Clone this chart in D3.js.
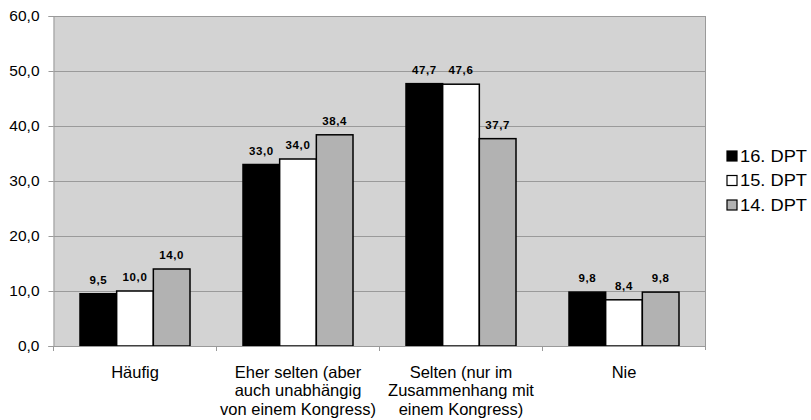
<!DOCTYPE html>
<html><head><meta charset="utf-8">
<script src="https://cdn.jsdelivr.net/npm/d3@7"></script>
<style>body{margin:0;background:#fff}svg{display:block}</style>
</head><body>
<svg id="c" width="811" height="420"></svg>
<script>
const categories = [
  ["Häufig"],
  ["Eher selten (aber", "auch unabhängig", "von einem Kongress)"],
  ["Selten (nur im", "Zusammenhang mit", "einem Kongress)"],
  ["Nie"]
];
const seriesNames = ["16. DPT", "15. DPT", "14. DPT"];
const s16 = [9.5, 33.0, 47.7, 9.8];
const s15 = [10.0, 34.0, 47.6, 8.4];
const s14 = [14.0, 38.4, 37.7, 9.8];
const yTicks = [0, 10, 20, 30, 40, 50, 60];
const colors = ["#000000", "#ffffff", "#b2b2b2"];

const series = [s16, s15, s14];
const svg = d3.select("#c");
const L = 53.5, R = 705.5, T = 16, B = 346;
const FONT = "Liberation Sans, Arial, sans-serif";
const fmt = v => v.toFixed(1).replace(".", ",");

const x = d3.scaleBand().domain(d3.range(categories.length)).range([L, R]).paddingInner(0).paddingOuter(0);
const x1 = d3.scaleBand().domain(d3.range(series.length)).range([0, 110]);
const y = d3.scaleLinear().domain([0, 60]).range([B, T]);

svg.append("rect").attr("x", L).attr("y", T).attr("width", R - L).attr("height", B - T).attr("fill", "#d3d3d3");

// gridlines
svg.append("g").selectAll("line").data(yTicks.filter(d => d > 0)).join("line")
  .attr("x1", L).attr("x2", R).attr("y1", d => Math.round(y(d)) + 0.5).attr("y2", d => Math.round(y(d)) + 0.5)
  .attr("stroke", "#9a9a9a").attr("stroke-width", 1);
// right border
svg.append("line").attr("x1", R).attr("x2", R).attr("y1", T).attr("y2", B + 4).attr("stroke", "#9a9a9a");

// bars
const off = (x.bandwidth() - 110) / 2;
const g = svg.append("g");
series.forEach((s, si) => {
  g.selectAll(null).data(s).join("rect")
    .attr("x", (d, i) => x(i) + off + x1(si))
    .attr("y", d => y(d))
    .attr("width", x1.bandwidth())
    .attr("height", d => B - y(d))
    .attr("fill", colors[si]).attr("stroke", "#000").attr("stroke-width", 1.5);
  g.selectAll(null).data(s).join("text")
    .attr("x", (d, i) => x(i) + off + x1(si) + x1.bandwidth() / 2)
    .attr("y", d => y(d) - 10)
    .attr("text-anchor", "middle")
    .attr("font-family", FONT).attr("font-weight", "bold").attr("font-size", 11.5)
    .attr("letter-spacing", 0.6)
    .text(d => fmt(d));
});

// y axis
const ya = d3.axisLeft(y).tickValues(yTicks).tickFormat(fmt).tickSize(5).tickPadding(9);
const yg = svg.append("g").attr("transform", `translate(${L},0)`).call(ya);
yg.select(".domain").attr("stroke", "#9a9a9a");
yg.selectAll(".tick line").attr("stroke", "#9a9a9a");
yg.selectAll("text").attr("font-family", FONT).attr("font-size", 15.5).attr("fill", "#000");

// x axis
svg.append("line").attr("x1", L - 5).attr("x2", R).attr("y1", B + 0.5).attr("y2", B + 0.5).attr("stroke", "#9a9a9a");
svg.append("g").selectAll("line").data(d3.range(categories.length)).join("line")
  .attr("x1", i => x(i)).attr("x2", i => x(i))
  .attr("y1", B).attr("y2", B + 5).attr("stroke", "#9a9a9a");

const cl = svg.append("g").selectAll("text").data(categories).join("text")
  .attr("text-anchor", "middle")
  .attr("font-family", FONT).attr("font-size", 16.5)
  .attr("transform", (d, i) => `translate(${x(i) + x.bandwidth() / 2},378)`);
cl.selectAll("tspan").data(d => d).join("tspan").attr("x", 0).attr("dy", (d, i) => i ? 18.3 : 0).text(d => d);

// legend
const lg = svg.append("g");
seriesNames.forEach((n, i) => {
  const cy = 156 + i * 24.5;
  lg.append("rect").attr("x", 727).attr("y", cy - 5).attr("width", 10).attr("height", 10)
    .attr("fill", colors[i]).attr("stroke", "#000").attr("stroke-width", 1.2);
  lg.append("text").attr("x", 740).attr("y", cy + 5.5)
    .attr("font-family", FONT).attr("font-size", 16.5)
    .attr("textLength", 67).attr("lengthAdjust", "spacingAndGlyphs").text(n);
});
</script>
</body></html>
